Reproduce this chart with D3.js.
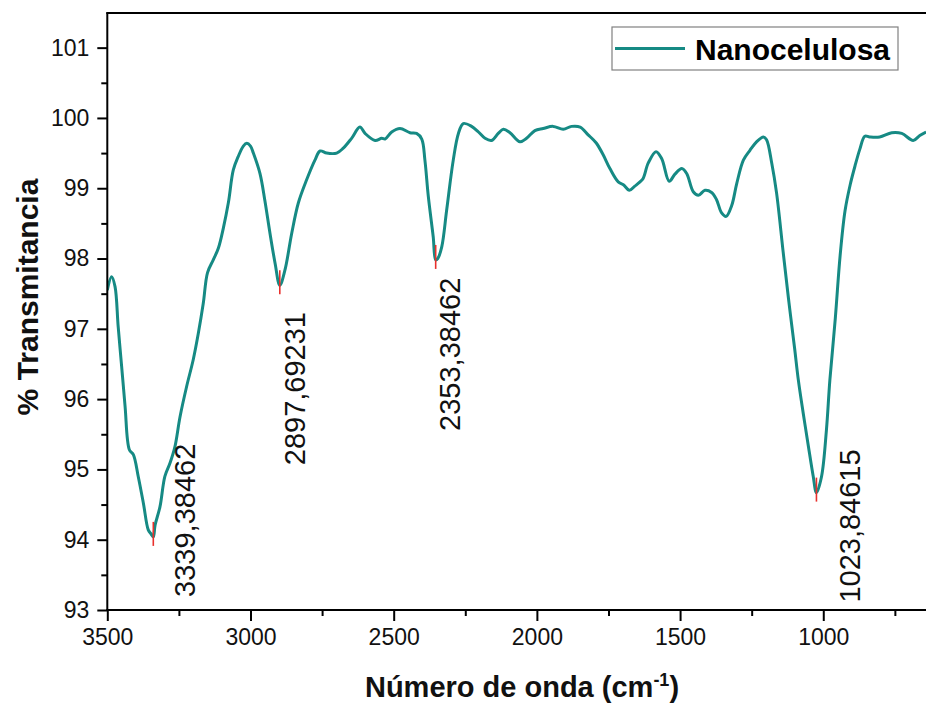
<!DOCTYPE html>
<html>
<head>
<meta charset="utf-8">
<script src="https://cdn.jsdelivr.net/npm/d3@7/dist/d3.min.js"></script>
<style>
  html, body { margin: 0; padding: 0; background: #fff; }
  svg { display: block; font-family: Arial, "Liberation Sans", sans-serif; }
</style>
</head>
<body>
<svg id="chart" width="926" height="704"></svg>
<script>
// FTIR spectrum of nanocellulose: wavenumber (cm-1) vs % transmittance
const wavenumber = [
  3500, 3485, 3473, 3462, 3450, 3438, 3423, 3409, 3392, 3374, 3357, 3347, 3339.38462,
  3333, 3316, 3299, 3281, 3264, 3246, 3223, 3200, 3182, 3165, 3150, 3130, 3112, 3095,
  3077, 3060, 3043, 3025, 3013, 3000, 2990, 2967, 2950, 2932, 2914, 2897.69231, 2880,
  2856, 2833, 2804, 2775, 2757, 2734, 2699, 2676, 2647, 2618, 2600, 2565, 2542, 2530,
  2507, 2478, 2443, 2420, 2402, 2391, 2379, 2362, 2353.38462, 2346, 2332, 2315, 2292,
  2274, 2257, 2228, 2204, 2181, 2158, 2135, 2117, 2094, 2059, 2036, 2007, 1978, 1943,
  1908, 1879, 1849, 1821, 1803, 1792, 1769, 1745, 1716, 1698, 1677, 1658, 1640, 1629,
  1611, 1584, 1564, 1538, 1518, 1494, 1477, 1454, 1436, 1413, 1390, 1373, 1355, 1339,
  1320, 1302, 1279, 1256, 1233, 1209, 1198, 1180, 1163, 1140, 1120, 1100, 1087, 1070,
  1052, 1035, 1023.84615, 1006, 989, 977, 958, 941, 924, 906, 889, 872, 855, 838, 803, 761,
  726, 686, 663, 641
];
const transmittance = [
  97.55, 97.74, 97.60, 97.03, 96.47, 95.90, 95.28, 95.21, 94.90, 94.52, 94.14, 94.08, 94.04,
  94.21, 94.47, 94.90, 95.09, 95.32, 95.75, 96.18, 96.56, 96.94, 97.36, 97.80, 97.98, 98.15, 98.43,
  98.80, 99.26, 99.45, 99.60, 99.64, 99.60, 99.50, 99.21, 98.83, 98.36, 97.93, 97.62, 97.83,
  98.36, 98.79, 99.12, 99.40, 99.53, 99.50, 99.50, 99.57, 99.71, 99.87, 99.78, 99.68, 99.71, 99.70,
  99.80, 99.85, 99.79, 99.78, 99.70, 99.40, 98.88, 98.31, 97.98, 98.00, 98.17, 98.69, 99.40,
  99.78, 99.92, 99.88, 99.80, 99.71, 99.68, 99.78, 99.84, 99.79, 99.66, 99.71, 99.82, 99.85, 99.88,
  99.84, 99.88, 99.87, 99.76, 99.69, 99.64, 99.48, 99.28, 99.09, 99.05, 98.97, 99.03, 99.09, 99.14,
  99.36, 99.52, 99.42, 99.10, 99.20, 99.28, 99.21, 98.95, 98.90, 98.97, 98.94, 98.84, 98.65, 98.60,
  98.75, 99.07, 99.40, 99.54, 99.66, 99.73, 99.69, 99.36, 98.93, 98.09, 97.38, 96.72, 96.27, 95.80,
  95.33, 94.90, 94.67, 94.90, 95.56, 96.27, 97.15, 98.05, 98.68, 99.05, 99.32, 99.56, 99.74, 99.73, 99.73, 99.79,
  99.78, 99.68, 99.75, 99.80
];

// Labelled absorption bands
const peakWavenumbers = [3339.38462, 2897.69231, 2353.38462, 1023.84615];
const peakValues = [94.04, 97.62, 97.98, 94.67];
const peakLabels = ["3339,38462", "2897,69231", "2353,38462", "1023,84615"];
// label placement (px) relative to each band minimum
const peakLabelOffsets = [[42, 60], [25, 180], [24, 171], [44, 110]];

const xTicksMajor = [3500, 3000, 2500, 2000, 1500, 1000];
const xTicksMinor = [3250, 2750, 2250, 1750, 1250, 750];
const yTicksMajor = [93, 94, 95, 96, 97, 98, 99, 100, 101];
const yTicksMinor = [93.5, 94.5, 95.5, 96.5, 97.5, 98.5, 99.5, 100.5];

const seriesName = "Nanocelulosa";
const xTitle = "Número de onda (cm";
const yTitle = "% Transmitancia";

const lineColor = "#168a84";
const plotLeft = 107.3, plotRight = 926, plotTop = 12.5, plotBottom = 610;

const svg = d3.select("#chart");

const x = d3.scaleLinear().domain([3500, 641.3]).range([plotLeft, plotRight]);
const y = d3.scaleLinear().domain([93, 101.5]).range([plotBottom, plotTop]);

svg.append("defs").append("clipPath").attr("id", "plotClip")
  .append("rect").attr("x", plotLeft).attr("y", plotTop)
  .attr("width", plotRight - plotLeft).attr("height", plotBottom - plotTop);

const data = wavenumber.map((w, i) => ({ w, t: transmittance[i] }));

const line = d3.line()
  .x(d => x(d.w))
  .y(d => y(d.t))
  .curve(d3.curveCatmullRom.alpha(0.5));

svg.append("path")
  .datum(data)
  .attr("clip-path", "url(#plotClip)")
  .attr("fill", "none")
  .attr("stroke", lineColor)
  .attr("stroke-width", 3)
  .attr("stroke-linejoin", "round")
  .attr("d", line);

// Axes
const fontTick = 23;
const xAxis = d3.axisBottom(x).tickValues(xTicksMajor).tickSize(11).tickPadding(8).tickFormat(d3.format("d"));
const xMinor = d3.axisBottom(x).tickValues(xTicksMinor).tickSize(6).tickFormat("");
const yAxis = d3.axisLeft(y).tickValues(yTicksMajor).tickSize(10).tickPadding(8).tickFormat(d3.format("d"));
const yMinor = d3.axisLeft(y).tickValues(yTicksMinor).tickSize(6).tickFormat("");

function styleAxis(g) {
  g.select(".domain").remove();
  g.selectAll(".tick line").attr("stroke", "#000").attr("stroke-width", 2);
  g.selectAll(".tick text").attr("fill", "#111").style("font-size", fontTick + "px")
    .style("font-family", "Arial, 'Liberation Sans', sans-serif");
}

svg.append("g").attr("transform", `translate(0,${plotBottom})`).call(xMinor).call(styleAxis);
svg.append("g").attr("transform", `translate(0,${plotBottom})`).call(xAxis).call(styleAxis);
svg.append("g").attr("transform", `translate(${plotLeft},0)`).call(yMinor).call(styleAxis);
svg.append("g").attr("transform", `translate(${plotLeft},0)`).call(yAxis).call(styleAxis);

// Frame lines: left, bottom, top
svg.append("line").attr("x1", plotLeft).attr("x2", plotLeft).attr("y1", plotTop).attr("y2", plotBottom + 1)
  .attr("stroke", "#000").attr("stroke-width", 2);
svg.append("line").attr("x1", plotLeft - 1).attr("x2", plotRight).attr("y1", plotBottom).attr("y2", plotBottom)
  .attr("stroke", "#000").attr("stroke-width", 2);
svg.append("line").attr("x1", plotLeft - 1).attr("x2", plotRight).attr("y1", plotTop + 0.5).attr("y2", plotTop + 0.5)
  .attr("stroke", "#000").attr("stroke-width", 2);

// Peak markers and labels
peakWavenumbers.forEach((w, i) => {
  const px = x(w), py = y(peakValues[i]);
  svg.append("line")
    .attr("x1", px).attr("x2", px)
    .attr("y1", py - 15).attr("y2", py + 9)
    .attr("stroke", "#e8302c").attr("stroke-width", 1.6);
  const [dx, dy] = peakLabelOffsets[i];
  svg.append("text")
    .attr("transform", `translate(${px + dx},${py + dy}) rotate(-90)`)
    .attr("text-anchor", "start")
    .attr("fill", "#111")
    .style("font-size", "29px")
    .text(peakLabels[i]);
});

// Legend
const legend = svg.append("g");
legend.append("rect").attr("x", 612).attr("y", 27).attr("width", 286).attr("height", 43)
  .attr("fill", "#fff").attr("stroke", "#808080").attr("stroke-width", 1.2);
legend.append("line").attr("x1", 615).attr("x2", 685).attr("y1", 48.5).attr("y2", 48.5)
  .attr("stroke", lineColor).attr("stroke-width", 3);
legend.append("text").attr("x", 695).attr("y", 59.5)
  .style("font-size", "30px").style("font-weight", "bold").attr("fill", "#000")
  .text(seriesName);

// Axis titles
svg.append("text")
  .attr("transform", `translate(38,297) rotate(-90)`)
  .attr("text-anchor", "middle")
  .style("font-size", "30px").style("font-weight", "bold").attr("fill", "#111")
  .text(yTitle);

const xt = svg.append("text")
  .attr("x", 522).attr("y", 697)
  .attr("text-anchor", "middle")
  .style("font-size", "29px").style("font-weight", "bold").attr("fill", "#111");
xt.append("tspan").text(xTitle);
xt.append("tspan").attr("dy", -11).style("font-size", "18px").text("-1");
xt.append("tspan").attr("dy", 11).text(")");
</script>
</body>
</html>
